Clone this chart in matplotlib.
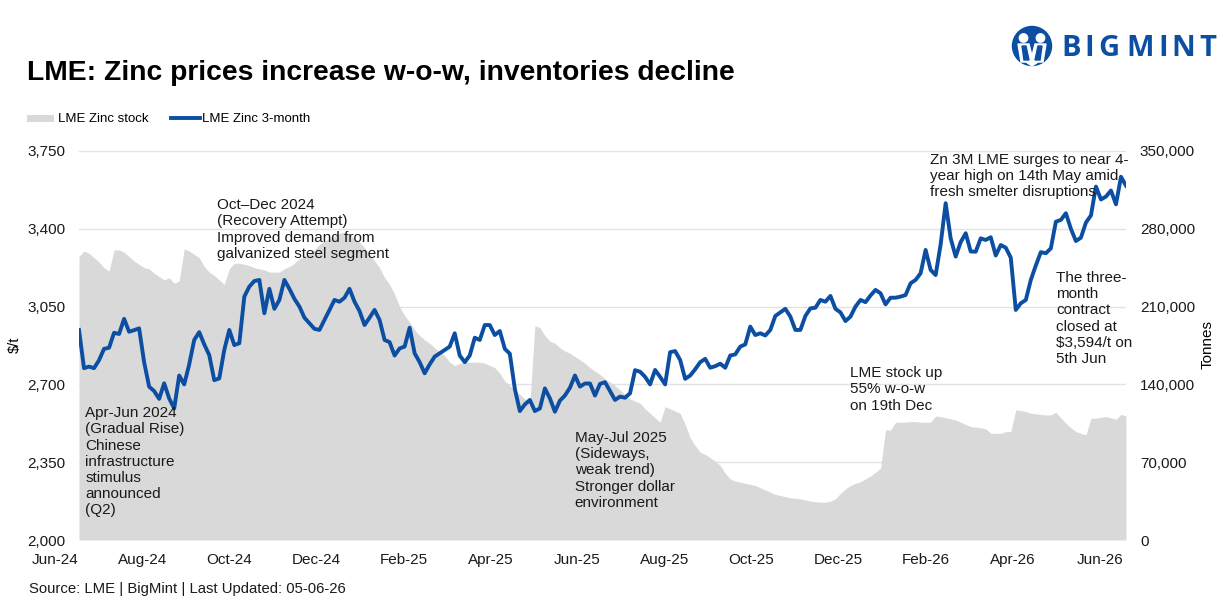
import matplotlib
matplotlib.use('Agg')
import matplotlib.pyplot as plt
import matplotlib.transforms as mtransforms
import numpy as np
from matplotlib.patches import Rectangle, Circle, Polygon
from matplotlib.lines import Line2D
from matplotlib.ticker import FuncFormatter

plt.rcParams['font.family'] = ['Liberation Sans', 'DejaVu Sans']

BLUE = '#0b4ea2'
GREY = '#d9d9d9'

# ---- data ----
month_labels = ['Jun-24', 'Aug-24', 'Oct-24', 'Dec-24', 'Feb-25', 'Apr-25', 'Jun-25',
                'Aug-25', 'Oct-25', 'Dec-25', 'Feb-26', 'Apr-26', 'Jun-26']

# LME Zinc 3-month, $/t
price = [
    2945, 2773, 2780, 2773, 2809, 2860, 2865, 2932, 2927, 2995,
    2937, 2944, 2952, 2800, 2690, 2670, 2635, 2705, 2637, 2592,
    2740, 2700, 2790, 2900, 2935, 2880, 2832, 2719, 2727, 2855,
    2945, 2877, 2885, 3095, 3140, 3165, 3170, 3020, 3130, 3040,
    3080, 3170, 3130, 3085, 3050, 3000, 2975, 2950, 2945, 2990,
    3035, 3080, 3072, 3090, 3130, 3072, 3030, 2967, 3000, 3035,
    2990, 2900, 2890, 2830, 2862, 2870, 2955, 2840, 2800, 2750,
    2790, 2825, 2840, 2855, 2870, 2930, 2830, 2800, 2830, 2910,
    2900, 2967, 2967, 2922, 2940, 2860, 2838, 2680, 2580, 2610,
    2630, 2580, 2592, 2682, 2637, 2577, 2627, 2650, 2685, 2740,
    2690, 2704, 2704, 2650, 2702, 2710, 2670, 2630, 2645, 2640,
    2660, 2764, 2757, 2734, 2700, 2765, 2734, 2700, 2845, 2850,
    2810, 2725, 2740, 2768, 2800, 2815, 2775, 2782, 2793, 2775,
    2830, 2835, 2870, 2880, 2960, 2922, 2930, 2920, 2945, 3008,
    3024, 3040, 3005, 2945, 2945, 3008, 3042, 3045, 3080, 3072,
    3098, 3040, 3024, 2985, 3005, 3050, 3080, 3070, 3100, 3125,
    3110, 3060, 3090, 3090, 3095, 3102, 3155, 3170, 3200, 3305,
    3215, 3192, 3330, 3515, 3357, 3275, 3340, 3380, 3298, 3297,
    3357, 3350, 3362, 3280, 3327, 3315, 3270, 3035, 3065, 3080,
    3170, 3235, 3295, 3290, 3312, 3432, 3440, 3470, 3400, 3345,
    3360, 3428, 3460, 3590, 3532, 3545, 3572, 3510, 3634, 3594,
]

# LME Zinc stock, thousand tonnes
stock_kt = [
    255, 260, 258, 254, 250, 245, 242, 261, 261, 259,
    255, 251, 248, 245, 244, 240, 237, 234, 236, 231,
    233, 262, 260, 257, 254, 246, 241, 238, 234, 230,
    244, 249, 249, 248, 247, 245, 244, 243, 241, 241,
    241, 244, 246, 249, 253, 255, 258, 261, 266, 269,
    271, 273, 276, 277, 275, 271, 268, 263, 257, 251,
    245, 236, 230, 221, 210, 202, 196, 189, 184, 180,
    177, 173, 169, 166, 160, 157, 159, 160, 160, 160,
    160, 159, 157, 155, 150, 143, 139, 135, 131, 127,
    123, 193, 191, 184, 179, 177, 173, 170, 168, 165,
    162, 159, 155, 152, 149, 145, 142, 139, 135, 131,
    127, 125, 123, 118, 114, 110, 106, 120, 118, 116,
    114, 104, 92, 85, 79, 77, 74, 71, 67, 60,
    55, 53, 52, 51, 50, 49, 47, 45, 43, 41,
    40, 39, 38, 37.5, 37, 36, 35, 34.5, 34, 34,
    35, 37, 42, 46, 49, 51, 52.5, 55, 57.5, 61,
    64.5, 99, 99, 106, 106, 106, 106.5, 106.5, 106, 106,
    106, 111.5, 111, 110, 109, 108, 106, 104, 102, 101.5,
    101, 100, 96, 96, 96, 97.5, 97.5, 117, 116.5, 115.5,
    114, 113.5, 113, 112.5, 112.5, 115, 110, 105, 101, 97.5,
    96, 94.5, 109.5, 109.5, 110.5, 111, 110, 108.6, 113, 111.6,
]
stock = np.array(stock_kt) * 1000

# evenly spaced trading points, x in months since Jun-24
n = len(price)
x = np.linspace(0.55, 24.6, n)

W, H = 1223, 603
fig = plt.figure(figsize=(W / 100, H / 100), dpi=100)
ax_s = fig.add_axes([79 / W, 1 - 540 / H, 1047 / W, 389 / H])
ax_p = ax_s.twinx()

# stock area (right axis)
ax_s.fill_between(x, stock, 0, color=GREY, lw=0)
ax_s.set_ylim(0, 350000)
ax_s.set_yticks(np.arange(0, 350001, 70000))
ax_s.yaxis.set_major_formatter(FuncFormatter(lambda v, p: f'{int(v):,}'))
ax_s.yaxis.tick_right()
ax_s.yaxis.set_label_position('right')
ax_s.grid(axis='y', color='#e2e2e2', lw=1.0)
ax_s.set_axisbelow(True)

# price line (left axis)
ax_p.plot(x, price, color=BLUE, lw=2.8, solid_joinstyle='round', zorder=3)
ax_p.set_ylim(2000, 3750)
ax_p.set_yticks(np.arange(2000, 3751, 350))
ax_p.yaxis.set_major_formatter(FuncFormatter(lambda v, p: f'{int(v):,}'))
ax_p.yaxis.tick_left()
ax_p.yaxis.set_label_position('left')

ax_s.set_xlim(0.55, 24.6)
for a in (ax_s, ax_p):
    a.set_xticks([])
    for sp in a.spines.values():
        sp.set_visible(False)
    a.tick_params(axis='y', length=0, labelsize=11, colors='#1a1a1a', pad=10)

# x labels every two months (Jun-24 sits left of the plot area)
trans = mtransforms.blended_transform_factory(ax_s.transData, ax_s.transAxes)
for i, lab in enumerate(month_labels):
    ax_s.text(i * 2, -0.051, lab, transform=trans, ha='center', va='center',
              fontsize=11, color='#1a1a1a', clip_on=False)

fig.text(15 / W, 1 - 345 / H, '$/t', rotation=90, ha='center', va='center', fontsize=10.5)
fig.text(1208 / W, 1 - 345 / H, 'Tonnes', rotation=90, ha='center', va='center', fontsize=11)

# annotations
note_kw = dict(fontsize=11, color='#1a1a1a', va='top', ha='left', linespacing=1.2, zorder=5)
ax_p.text(3.72, 3538, 'Oct\u2013Dec 2024\n(Recovery Attempt)\nImproved demand from\n'
          'galvanized steel segment', **note_kw)
ax_p.text(0.69, 2602, 'Apr-Jun 2024\n(Gradual Rise)\nChinese\ninfrastructure\nstimulus\n'
          'announced\n(Q2)', **note_kw)
ax_p.text(11.94, 2490, 'May-Jul 2025\n(Sideways,\nweak trend)\nStronger dollar\nenvironment',
          **note_kw)
ax_p.text(18.26, 2782, 'LME stock up\n55% w-o-w\non 19th Dec', **note_kw)
ax_p.text(20.1, 3741, 'Zn 3M LME surges to near 4-\nyear high on 14th May amid\n'
          'fresh smelter disruptions', **note_kw)
ax_p.text(23.0, 3210, 'The three-\nmonth\ncontract\nclosed at\n$3,594/t on\n5th Jun', **note_kw)

# title, legend, source
fig.text(27 / W, 1 - 80 / H, 'LME: Zinc prices increase w-o-w, inventories decline',
         fontsize=20.3, weight='bold', va='baseline', color='#000000')
fig.add_artist(Rectangle((27 / W, 1 - 122 / H), 27 / W, 7 / H, transform=fig.transFigure,
                         color=GREY, lw=0))
fig.text(58 / W, 1 - 122.5 / H, 'LME Zinc stock', fontsize=9.5, va='baseline')
fig.add_artist(Line2D([171 / W, 200 / W], [1 - 118 / H] * 2, transform=fig.transFigure,
                      color=BLUE, lw=2.8))
fig.text(202 / W, 1 - 122.5 / H, 'LME Zinc 3-month', fontsize=9.5, va='baseline')
fig.text(29 / W, 1 - 593 / H, 'Source: LME | BigMint | Last Updated: 05-06-26',
         fontsize=10.7, va='baseline', color='#1a1a1a')

# BigMint logo
lax = fig.add_axes([1010 / W, 1 - 68 / H, 44 / W, 44 / H])
lax.set_xlim(0, 44)
lax.set_ylim(0, 44)
lax.axis('off')
lax.add_patch(Circle((22, 22), 19.5, color=BLUE))
for cx in (13.5, 30.5):
    lax.add_patch(Circle((cx, 30), 4.2, color='white'))
lax.add_patch(Polygon([(8, 24), (19, 24), (22, 12), (25, 24), (36, 24), (33, 6),
                       (28, 6), (22, 2), (16, 6), (11, 6)], closed=True, color='white'))
lax.add_patch(Polygon([(12, 22), (16, 22), (19, 8), (14, 8)], closed=True, color=BLUE))
lax.add_patch(Polygon([(28, 22), (32, 22), (30, 8), (25, 8)], closed=True, color=BLUE))
for ch, cx in zip('BIGMINT', [1071, 1089, 1109, 1140, 1163, 1183, 1207.5]):
    fig.text(cx / W, 1 - 48.5 / H, ch, fontsize=21, weight='bold', color=BLUE,
             ha='center', va='center', family=['Open Sans', 'DejaVu Sans'])

fig.savefig('out.png', dpi=100)
